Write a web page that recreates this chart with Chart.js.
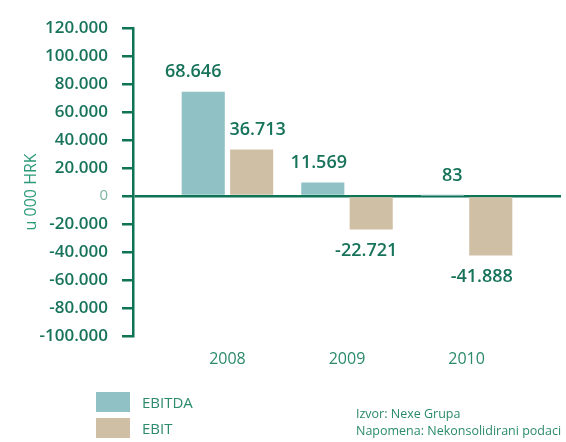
<!DOCTYPE html>
<html>
<head>
<meta charset="utf-8">
<script src="https://cdn.jsdelivr.net/npm/chart.js@4/dist/chart.umd.min.js"></script>
<style>
  html, body { margin: 0; padding: 0; background: #fff; }
  #wrap { position: relative; width: 566px; height: 442px; overflow: hidden; font-family: "Open Sans", sans-serif; }
  #c { position: absolute; left: 0; top: 0; }
  .leg { position: absolute; left: 96px; height: 20px; display: flex; align-items: center; color: #2b8a6c; font-size: 15px; }
  .leg span.box { display: inline-block; width: 34px; height: 20px; margin-right: 12px; }
  .src { position: absolute; left: 356px; color: #2b8a6c; font-size: 12.5px; line-height: 17px; white-space: nowrap; }
</style>
</head>
<body>
<div id="wrap">
  <canvas id="c" width="566" height="442"></canvas>
  <div id="legend"></div>
  <div class="src" style="top:405px;">Izvor: Nexe Grupa<br>Napomena: Nekonsolidirani podaci</div>
</div>
<script>
// ---- data ----
const categories = ['2008', '2009', '2010'];
const seriesNames = ['EBITDA', 'EBIT'];
const ebitda = [74500, 9500, 83];
const ebit = [33200, -24100, -42600];
const ebitdaLabels = ['68.646', '11.569', '83'];
const ebitLabels = ['36.713', '-22.721', '-41.888'];
const yTicks = [120000, 100000, 80000, 60000, 40000, 20000, 0, -20000, -40000, -60000, -80000, -100000];
const yTitle = 'u 000 HRK';

// ---- style ----
const colors = ['#8fc1c5', '#cfc0a5'];
const axisGreen = '#0f7356';
const textGreen = '#17735a';
const labelNudge = [[-10, -4, 10], [6, -5, -9]];

function fmt(v) {
  const s = Math.abs(v).toString().replace(/\B(?=(\d{3})+(?!\d))/g, '.');
  return (v < 0 ? '-' : '') + s;
}

const labelSets = [ebitdaLabels, ebitLabels];
const valueLabels = {
  id: 'valueLabels',
  afterDatasetsDraw(chart) {
    const ctx = chart.ctx;
    ctx.save();
    ctx.font = '600 18px "Open Sans"';
    ctx.fillStyle = textGreen;
    ctx.textAlign = 'center';
    ctx.textBaseline = 'middle';
    chart.data.datasets.forEach((ds, di) => {
      const meta = chart.getDatasetMeta(di);
      meta.data.forEach((el, i) => {
        const v = ds.data[i].y;
        const y = v >= 0 ? el.y - 20 : el.y + 21;
        ctx.fillText(labelSets[di][i], el.x + labelNudge[di][i], y);
      });
    });
    ctx.restore();
  }
};

// y-axis title, centred slightly below the middle of the plot (as in the reference)
const axisTitle = {
  id: 'axisTitle',
  afterDraw(chart) {
    const ctx = chart.ctx;
    const ys = chart.scales.y;
    ctx.save();
    ctx.translate(ys.left + 31, ys.getPixelForValue(0) - 4);
    ctx.rotate(-Math.PI / 2);
    ctx.font = '16px "Open Sans"';
    ctx.fillStyle = '#2b9a78';
    ctx.textAlign = 'center';
    ctx.textBaseline = 'middle';
    ctx.fillText(yTitle, 0, 0);
    ctx.restore();
  }
};

const chart = new Chart(document.getElementById('c'), {
  type: 'bar',
  data: {
    datasets: [
      { label: seriesNames[0], data: ebitda.map((v, i) => ({ x: i, y: v })), backgroundColor: colors[0] },
      { label: seriesNames[1], data: ebit.map((v, i) => ({ x: i, y: v })), backgroundColor: colors[1] }
    ]
  },
  options: {
    responsive: false,
    animation: false,
    events: [],
    categoryPercentage: 0.81,
    barPercentage: 0.89,
    layout: { padding: { top: 28, right: 5, bottom: 59, left: 0 } },
    plugins: { legend: { display: false }, tooltip: { enabled: false } },
    scales: {
      x: {
        type: 'linear',
        min: -0.79,
        max: 2.79,
        offset: false,
        afterBuildTicks: s => { s.ticks = categories.map((c, i) => ({ value: i })); },
        grid: { display: false, drawTicks: false },
        border: { display: false },
        ticks: {
          padding: 14,
          color: '#2b8a6c',
          font: { family: 'Open Sans', size: 16 },
          callback: v => categories[v] ?? ''
        }
      },
      y: {
        min: -100000,
        max: 120000,
        z: 1,
        afterBuildTicks: s => { s.ticks = yTicks.map(v => ({ value: v })); },
        afterFit: s => { s.width = 133; },
        border: { display: true, color: axisGreen, width: 2.5 },
        grid: {
          drawOnChartArea: true,
          color: c => (c.tick && c.tick.value === 0) ? axisGreen : 'rgba(0,0,0,0)',
          tickColor: axisGreen,
          tickLength: 11,
          lineWidth: 2.5
        },
        ticks: {
          padding: 14,
          color: c => (c.tick && c.tick.value === 0) ? '#7fb3a2' : textGreen,
          font: c => (c.tick && c.tick.value === 0) ? { family: 'Open Sans', size: 15 } : { family: 'Open Sans', size: 17, weight: '600' },
          callback: v => fmt(v)
        },
        title: { display: false }
      }
    }
  },
  plugins: [valueLabels, axisTitle]
});

// HTML legend built from datasets
const legend = document.getElementById('legend');
chart.data.datasets.forEach((ds, i) => {
  const d = document.createElement('div');
  d.className = 'leg';
  d.style.top = (392 + i * 26) + 'px';
  d.innerHTML = '<span class="box" style="background:' + ds.backgroundColor + '"></span>' + ds.label;
  legend.appendChild(d);
});
</script>
</body>
</html>
